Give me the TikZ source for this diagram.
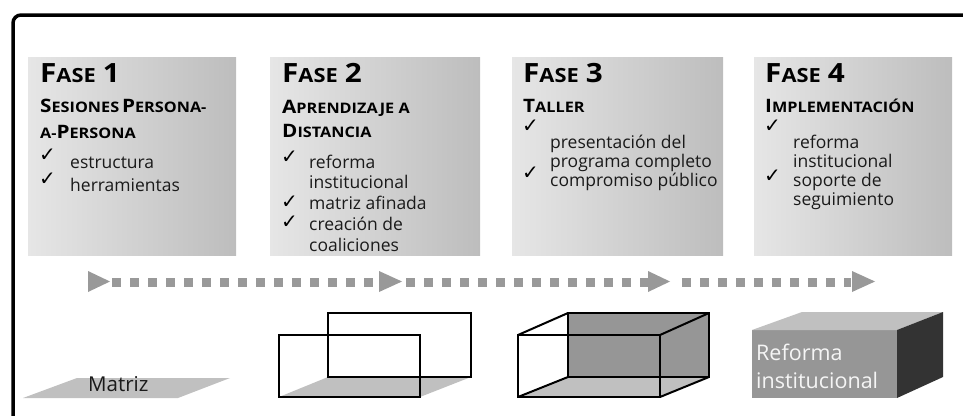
\documentclass[tikz,border=0pt]{standalone}
\usepackage{fontspec}
\setmainfont{Open Sans}
\newfontfamily\ttlfont[FakeStretch=1.12]{Open Sans}
\newfontfamily\chkfont{DejaVu Sans}
\definecolor{boxL}{HTML}{E6E6E6}
\definecolor{boxM}{HTML}{D8D8D8}
\definecolor{boxR}{HTML}{BDBDBD}
\definecolor{dotc}{HTML}{999999}
\definecolor{lightg}{HTML}{C0C0C0}
\definecolor{midg}{HTML}{969696}
\definecolor{darkg}{HTML}{333333}
\definecolor{txtc}{HTML}{1A1A1A}
\newcommand\phBig[1]{{\fontsize{26.5}{26.5}\selectfont #1}}
\newcommand\phSm[1]{{\fontsize{19.5}{19.5}\selectfont #1}}
\newcommand\stBig[1]{{\fontsize{18.5}{18.5}\selectfont #1}}
\newcommand\stSm[1]{{\fontsize{14.5}{14.5}\selectfont #1}}
\newcommand\phGap{\hspace{7pt}}
\begin{document}
\begin{tikzpicture}[x=1pt,y=-1pt,
  phasebox/.style={shade, left color=boxL, middle color=boxM, right color=boxR, shading angle=90,
    minimum width=#1, minimum height=198pt, anchor=north west, inner sep=0pt, outer sep=0pt},
  ttl/.style={anchor=base west, inner sep=0pt, font=\ttlfont\bfseries, text=black},
  itm/.style={anchor=base west, inner sep=0pt, font=\fontsize{17.5}{17.5}\selectfont, text=txtc},
  chk/.style={anchor=base west, inner sep=0pt, font=\chkfont\fontsize{20}{20}\selectfont, text=black},
  dots/.style={draw=dotc, line width=9pt, dash pattern=on 8.5pt off 9.5pt},
  tri/.style={fill=dotc},
  edge/.style={draw=black, line width=2pt, line join=miter},
]
\useasboundingbox (0,0) rectangle (963,415);
% outer frame
\coordinate (fA) at (13,440);
\coordinate (fB) at (13,15);
\coordinate (fC) at (990,15);
\draw[line width=3.5pt, rounded corners=8pt] (fA) -- (fB) -- (fC);

% phase boxes
\node[phasebox=208pt] (b1) at (28,57) {};
\node[phasebox=210pt] (b2) at (270,57) {};
\node[phasebox=211pt] (b3) at (512,57) {};
\node[phasebox=198pt] (b4) at (754,57) {};

% box 1
\node[ttl] (t1) at (40,82) {\phBig{F}\phSm{ASE}\phGap\phBig{1}};
\node[ttl] (s1a) at (40,112) {\stBig{S}\stSm{ESIONES} \stBig{P}\stSm{ERSONA-}};
\node[ttl] (s1b) at (40,138) {\stSm{A-}\stBig{P}\stSm{ERSONA}};
\node[chk] (c1a) at (39,161) {✓};
\node[chk] (c1b) at (39,185) {✓};
\node[itm] (i1a) at (70,168) {estructura};
\node[itm] (i1b) at (70,191) {herramientas};

% box 2
\node[ttl] (t2) at (282,82) {\phBig{F}\phSm{ASE}\phGap\phBig{2}};
\node[ttl] (s2a) at (282,113) {\stBig{A}\stSm{PRENDIZAJE A}};
\node[ttl] (s2b) at (282,137) {\stBig{D}\stSm{ISTANCIA}};
\node[chk] (c2a) at (281,163) {✓};
\node[chk] (c2b) at (281,208) {✓};
\node[chk] (c2c) at (281,228) {✓};
\node[itm] (i2a) at (309,168) {reforma};
\node[itm] (i2b) at (309,188) {institucional};
\node[itm] (i2c) at (309,209) {matriz afinada};
\node[itm] (i2d) at (309,230) {creación de};
\node[itm] (i2e) at (309,251) {coaliciones};

% box 3
\node[ttl] (t3) at (523,82) {\phBig{F}\phSm{ASE}\phGap\phBig{3}};
\node[ttl] (s3a) at (523,112) {\stBig{T}\stSm{ALLER}};
\node[chk] (c3a) at (522,132) {✓};
\node[chk] (c3b) at (522,179) {✓};
\node[itm] (i3a) at (550,148) {presentación del};
\node[itm] (i3b) at (550,167) {programa completo};
\node[itm] (i3c) at (550,186) {compromiso público};

% box 4
\node[ttl] (t4) at (765,82) {\phBig{F}\phSm{ASE}\phGap\phBig{4}};
\node[ttl] (s4a) at (765,112) {\stBig{I}\stSm{MPLEMENTACIÓN}};
\node[chk] (c4a) at (764,132) {✓};
\node[chk] (c4b) at (764,182) {✓};
\node[itm] (i4a) at (793,148) {reforma};
\node[itm] (i4b) at (793,167) {institucional};
\node[itm] (i4c) at (793,186) {soporte de};
\node[itm] (i4d) at (793,205) {seguimiento};

% dotted timeline
\coordinate (d1s) at (112,282); \coordinate (d1e) at (379,282);
\coordinate (d2s) at (406,282); \coordinate (d2e) at (652,282);
\coordinate (d3s) at (682,282); \coordinate (d3e) at (851,282);
\draw[dots] (d1s) -- (d1e);
\draw[dots] (d2s) -- (d2e);
\draw[dots] (d3s) -- (d3e);
\fill[tri] (88,271) -- (110,281.5) -- (88,292) -- cycle;
\fill[tri] (379,271) -- (402,281.5) -- (379,292) -- cycle;
\fill[tri] (648,271) -- (670,281.5) -- (648,292) -- cycle;
\fill[tri] (852,271) -- (875,281.5) -- (852,292) -- cycle;

% shape 1: Matriz
\fill[lightg] (23,398) -- (77,378) -- (230,378) -- (178,398) -- cycle;
\node[anchor=base west, inner sep=0pt, font=\fontsize{20.5}{20.5}\selectfont, text=txtc] (mtx) at (88,391) {Matriz};

% shape 2: two frames
\fill[lightg] (279,397) -- (328,377) -- (471,377) -- (420,397) -- cycle;
\draw[edge] (328,313) rectangle (471,377);
\draw[edge] (279,335) rectangle (420,397);

% shape 3: open box
\fill[lightg] (518,397) -- (568,377) -- (709,377) -- (660,397) -- cycle;
\draw[edge, fill=midg] (568,313) rectangle (709,377);
\draw[edge] (518,335) rectangle (660,397);
\draw[edge] (518,335) -- (568,313);
\draw[edge] (660,335) -- (709,313);
\draw[edge] (518,397) -- (568,377);
\draw[edge] (660,397) -- (709,377);

% shape 4: solid block
\fill[midg] (752,330) rectangle (897,398);
\fill[lightg] (752,330) -- (802,312) -- (943,312) -- (897,330) -- cycle;
\fill[darkg] (897,330) -- (943,312) -- (943,377) -- (897,398) -- cycle;
\node[anchor=base west, inner sep=0pt, font=\fontsize{21.5}{21.5}\selectfont, text=white!92!gray] (rf1) at (756,360) {Reforma};
\node[anchor=base west, inner sep=0pt, font=\fontsize{21.5}{21.5}\selectfont, text=white!92!gray] (rf2) at (756,388) {institucional};
\end{tikzpicture}
\end{document}
